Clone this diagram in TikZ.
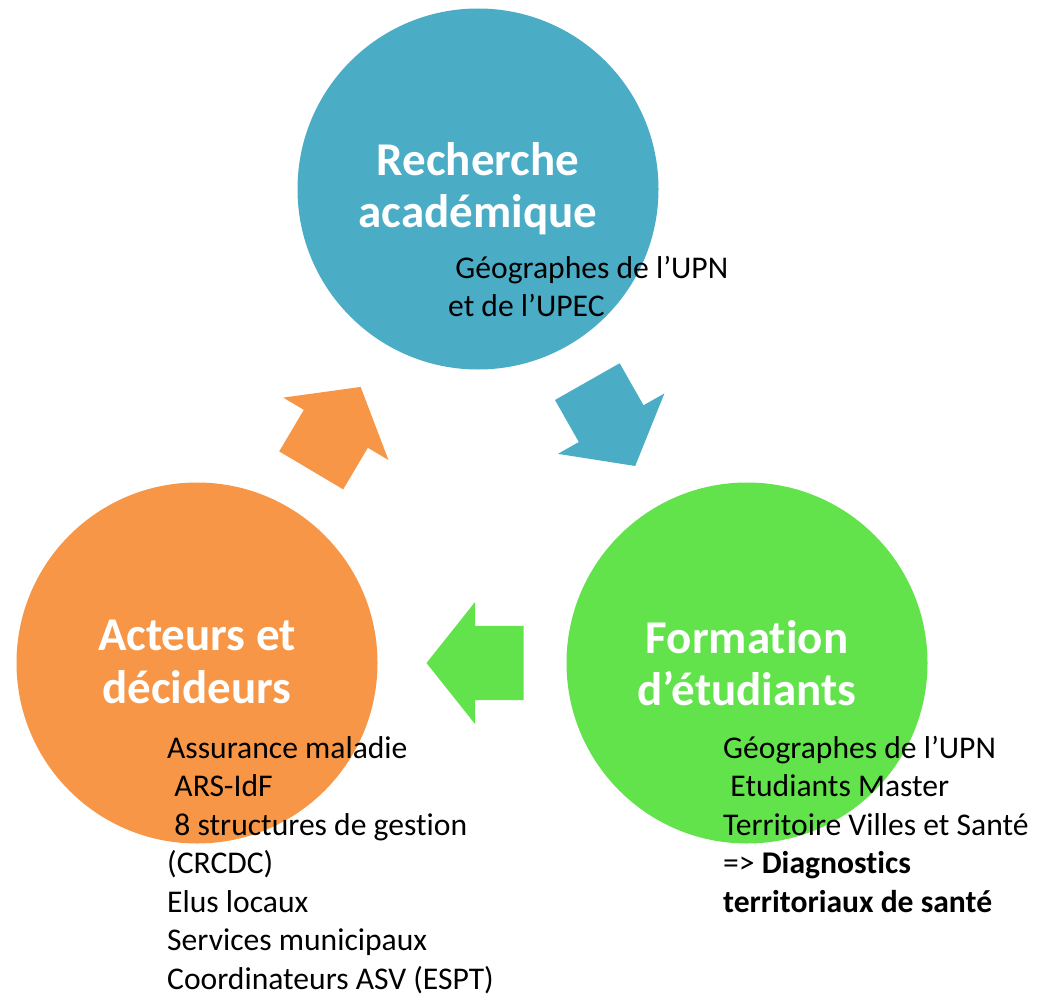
\documentclass[tikz,border=0pt]{standalone}
\usepackage{fontspec}
\setmainfont{Carlito}[Ligatures=NoCommon]
\usetikzlibrary{shapes.arrows}
\usetikzlibrary{calc}
\definecolor{recherchecol}{HTML}{4BACC6}
\definecolor{acteurscol}{HTML}{F79646}
\definecolor{formationcol}{HTML}{62E24B}

\begin{document}
\begin{tikzpicture}[x=1pt,y=-1pt,
  pole/.style={circle,inner sep=0pt,minimum size=361pt},
  cyclearrow/.style={single arrow,inner xsep=0pt,inner ysep=37pt,minimum height=97pt,
    single arrow head extend=24pt,single arrow tip angle=103,sloped,allow upside down,
    pos=0.406,anchor=tail},
  title/.style={text=white,font=\bfseries\fontsize{47}{52.5}\selectfont,align=center,anchor=north,inner sep=0pt},
  body/.style={font=\fontsize{31.6}{38.5}\selectfont,align=left,anchor=north west,inner sep=0pt}]
  \useasboundingbox (0,0) rectangle (1048,995);

  % les trois poles
  \node[pole,fill=recherchecol] (recherche) at (478,189) {};
  \node[pole,fill=acteurscol] (acteurs) at (197,663) {};
  \node[pole,fill=formationcol] (formation) at (747,663) {};

  % fleches du cycle
  \path (acteurs.center) -- (recherche.center) node[cyclearrow,fill=acteurscol] (a1) {};
  \path (recherche.center) -- (formation.center) node[cyclearrow,fill=recherchecol] (a2) {};
  \path (formation.center) -- (acteurs.center) node[cyclearrow,fill=formationcol] (a3) {};

  % titres
  \node[title] (rechtitle) at (478,142) {Recherche\\académique};
  \node[title] (acttitle) at (197,620) {Acteurs et\\décideurs};
  \node[title] (formtitle) at (747,620) {Formation\\d’étudiants};

  % textes
  \node[body] (rechtext) at (448,256) {\hspace*{.23em}Géographes de l’UPN\\et de l’UPEC};
  \node[body] (acttext) at (167,736) {Assurance maladie\\
    \hspace*{.23em}ARS-IdF\\
    \hspace*{.23em}8 structures de gestion\\
    (CRCDC)\\
    Elus locaux\\
    Services municipaux\\
    Coordinateurs ASV (ESPT)};
  \node[body] (formtext) at (723,736) {Géographes de l’UPN\\
    \hspace*{.23em}Etudiants Master\\
    Territoire Villes et Santé\\
    => \textbf{Diagnostics}\\
    \textbf{territoriaux de santé}};
\end{tikzpicture}
\end{document}
